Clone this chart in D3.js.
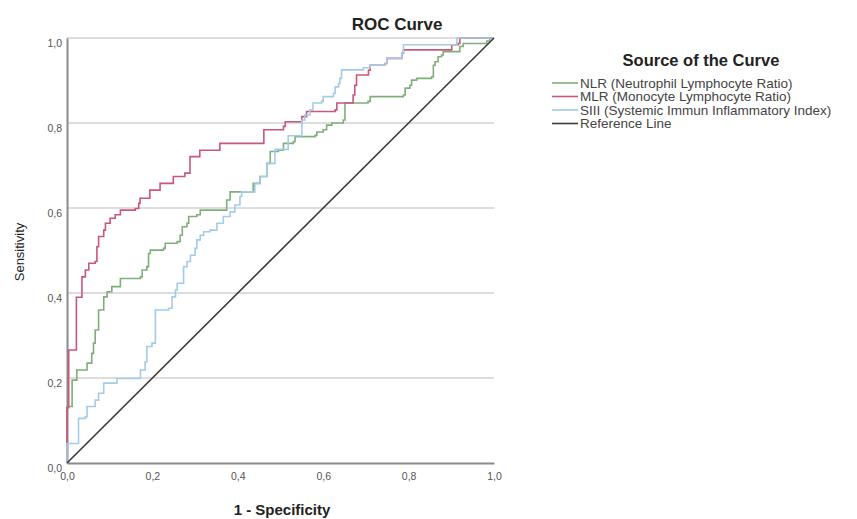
<!DOCTYPE html>
<html>
<head>
<meta charset="utf-8">
<script src="https://cdn.jsdelivr.net/npm/d3@7"></script>
<style>
  body { margin: 0; background: #fff; }
  svg { font-family: "Liberation Sans", Arial, sans-serif; }
</style>
</head>
<body>
<svg id="chart" width="857" height="519"></svg>
<script>
// [1 - specificity, sensitivity] corner points
const nlrPoints = [[0,0],[0,0.133],[0.012,0.195],[0.023,0.219],[0.047,0.235],[0.058,0.258],[0.062,0.282],[0.066,0.313],[0.074,0.36],[0.086,0.391],[0.094,0.403],[0.105,0.415],[0.125,0.434],[0.172,0.438],[0.176,0.454],[0.187,0.462],[0.191,0.493],[0.195,0.501],[0.226,0.505],[0.23,0.517],[0.258,0.521],[0.265,0.536],[0.27,0.556],[0.281,0.564],[0.285,0.58],[0.304,0.584],[0.312,0.595],[0.374,0.619],[0.382,0.638],[0.436,0.658],[0.452,0.674],[0.468,0.705],[0.476,0.733],[0.495,0.736],[0.507,0.752],[0.53,0.756],[0.534,0.768],[0.581,0.771],[0.585,0.779],[0.6,0.784],[0.608,0.795],[0.62,0.8],[0.647,0.807],[0.651,0.847],[0.705,0.851],[0.71,0.862],[0.788,0.866],[0.792,0.882],[0.803,0.889],[0.807,0.901],[0.819,0.905],[0.854,0.909],[0.858,0.936],[0.862,0.944],[0.869,0.956],[0.877,0.96],[0.881,0.968],[0.92,0.98],[0.928,0.987],[0.983,0.993],[0.99,1],[1,1]]
const mlrPoints = [[0,0],[0,0.13],[0.004,0.266],[0.022,0.39],[0.035,0.438],[0.043,0.454],[0.051,0.47],[0.066,0.474],[0.07,0.509],[0.074,0.533],[0.086,0.548],[0.09,0.564],[0.101,0.576],[0.113,0.584],[0.125,0.595],[0.16,0.599],[0.168,0.611],[0.171,0.623],[0.194,0.642],[0.218,0.658],[0.249,0.674],[0.276,0.682],[0.288,0.721],[0.311,0.736],[0.358,0.752],[0.461,0.784],[0.507,0.792],[0.511,0.803],[0.55,0.815],[0.561,0.827],[0.628,0.831],[0.632,0.847],[0.67,0.866],[0.674,0.889],[0.678,0.913],[0.706,0.924],[0.71,0.936],[0.745,0.94],[0.749,0.952],[0.784,0.964],[0.788,0.972],[0.901,0.984],[0.916,0.987],[0.92,1],[1,1]]
const siiiPoints = [[0,0],[0,0.046],[0.027,0.105],[0.043,0.109],[0.047,0.133],[0.066,0.148],[0.074,0.164],[0.086,0.188],[0.117,0.199],[0.172,0.219],[0.183,0.238],[0.187,0.274],[0.199,0.282],[0.207,0.36],[0.238,0.364],[0.246,0.391],[0.254,0.407],[0.258,0.423],[0.273,0.462],[0.281,0.474],[0.289,0.489],[0.3,0.505],[0.304,0.525],[0.312,0.536],[0.32,0.544],[0.335,0.548],[0.351,0.564],[0.366,0.58],[0.382,0.591],[0.393,0.607],[0.405,0.627],[0.409,0.638],[0.44,0.658],[0.452,0.674],[0.468,0.705],[0.487,0.738],[0.518,0.77],[0.55,0.807],[0.557,0.819],[0.569,0.831],[0.576,0.847],[0.596,0.851],[0.6,0.862],[0.624,0.87],[0.628,0.885],[0.636,0.893],[0.639,0.905],[0.643,0.925],[0.694,0.93],[0.71,0.936],[0.745,0.94],[0.749,0.952],[0.784,0.965],[0.788,0.984],[0.913,1],[1,1]]
const refPoints = [[0,0],[1,1]]

const seriesNames = ['NLR (Neutrophil Lymphocyte Ratio)', 'MLR (Monocyte Lymphocyte Ratio)', 'SIII (Systemic Immun Inflammatory Index)', 'Reference Line']
const seriesColors = ['#7fae78', '#c9577a', '#a4cbe8', '#3a3a3a']
const tickValues = [0, 0.2, 0.4, 0.6, 0.8, 1.0]

const svg = d3.select('#chart')
const plotLeft = 67, plotRight = 494, plotTop = 38, plotBottom = 463

const x = d3.scaleLinear().domain([0, 1]).range([plotLeft, plotRight])
const y = d3.scaleLinear().domain([0, 1]).range([plotBottom, plotTop])
const fmt = d => d3.format('.1f')(d).replace('.', ',')

// horizontal grid lines
svg.append('g')
    .selectAll('line')
    .data(tickValues.slice(1))
    .enter()
    .append('line')
    .attr('x1', plotLeft)
    .attr('x2', plotRight)
    .attr('y1', d => y(d))
    .attr('y2', d => y(d))
    .attr('stroke', '#d2d2d2')
    .attr('stroke-width', 1.5)

// axes
const yAxis = svg.append('g')
    .attr('transform', `translate(${plotLeft},0)`)
    .call(d3.axisLeft(y).tickValues(tickValues).tickFormat(fmt).tickSize(0).tickPadding(5))
const xAxis = svg.append('g')
    .attr('transform', `translate(0,${plotBottom})`)
    .call(d3.axisBottom(x).tickValues(tickValues).tickFormat(fmt).tickSize(0).tickPadding(10))

yAxis.select('.domain').attr('stroke', '#8a8a8a').attr('stroke-width', 2)
xAxis.select('.domain').attr('stroke', '#8a8a8a').attr('stroke-width', 2)
yAxis.selectAll('text').attr('dy', '0.8em').attr('fill', '#555').style('font-size', '10.5px')
xAxis.selectAll('text').attr('fill', '#555').style('font-size', '10.5px')
yAxis.attr('font-family', null)
xAxis.attr('font-family', null)

// curves
const line = d3.line()
    .x(d => x(d[0]))
    .y(d => y(d[1]))
    .curve(d3.curveStepAfter)

const allSeries = [nlrPoints, mlrPoints, siiiPoints]
allSeries.forEach((pts, i) => {
    svg.append('path')
        .datum(pts)
        .attr('d', line)
        .attr('fill', 'none')
        .attr('stroke', seriesColors[i])
        .attr('stroke-width', 1.6)
})

svg.append('path')
    .datum(refPoints)
    .attr('d', d3.line().x(d => x(d[0])).y(d => y(d[1])))
    .attr('fill', 'none')
    .attr('stroke', seriesColors[3])
    .attr('stroke-width', 1.6)

// titles
svg.append('text')
    .attr('x', 397)
    .attr('y', 30)
    .attr('text-anchor', 'middle')
    .style('font-size', '17px')
    .style('font-weight', 'bold')
    .attr('fill', '#222')
    .text('ROC Curve')

svg.append('text')
    .attr('x', 282)
    .attr('y', 515)
    .attr('text-anchor', 'middle')
    .style('font-size', '15px')
    .style('font-weight', 'bold')
    .attr('fill', '#222')
    .text('1 - Specificity')

svg.append('text')
    .attr('transform', `translate(24,252) rotate(-90)`)
    .attr('text-anchor', 'middle')
    .style('font-size', '13px')
    .attr('fill', '#222')
    .text('Sensitivity')

// legend
const legend = svg.append('g')
legend.append('text')
    .attr('x', 701)
    .attr('y', 66)
    .attr('text-anchor', 'middle')
    .style('font-size', '16.5px')
    .style('font-weight', 'bold')
    .attr('fill', '#222')
    .text('Source of the Curve')

const items = legend.selectAll('g.item')
    .data(seriesNames)
    .enter()
    .append('g')
    .attr('class', 'item')
    .attr('transform', (d, i) => `translate(552,${83 + i * 13.5})`)

items.append('line')
    .attr('x1', 0)
    .attr('x2', 26)
    .attr('stroke', (d, i) => seriesColors[i])
    .attr('stroke-width', 1.6)

items.append('text')
    .attr('x', 28)
    .attr('dy', '0.35em')
    .style('font-size', '13.5px')
    .attr('fill', '#444')
    .text(d => d)
</script>
</body>
</html>
